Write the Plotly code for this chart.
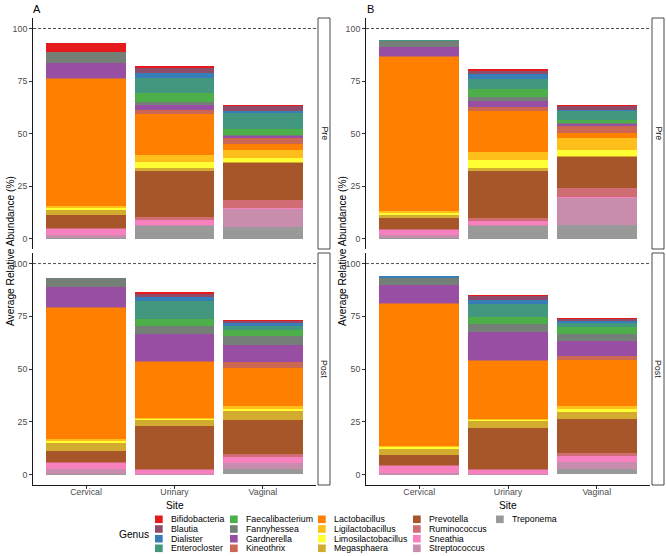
import plotly.graph_objects as go

W, H = 666, 556

sites = ["Cervical", "Urinary", "Vaginal"]
genera = ["Bifidobacteria", "Blautia", "Dialister", "Enterocloster", "Faecalibacterium",
          "Fannyhessea", "Gardnerella", "Kineothrix", "Lactobacillus", "Ligilactobacillus",
          "Limosilactobacillus", "Megasphaera", "Prevotella", "Ruminococcus", "Sneathia",
          "Streptococcus", "Treponema"]
colors = ["#E41A1C", "#8E4C6A", "#377EB8", "#42977F", "#4DAF4A", "#737F77", "#984EA3",
          "#CC6752", "#FF7F00", "#FFBF1A", "#FFFF33", "#D3AB2E", "#A65628", "#CF6C74",
          "#F781BF", "#C88DAC", "#999999"]

# values per site, in genus order (percent)
a_pre_cervical = [4.4, 0, 0, 0, 0, 5.4, 7.1, 0.3, 60.4, 1.0, 0.6, 2.8, 6.4, 0.2, 3.0, 1.4, 0.2]
a_pre_urinary = [0.4, 2.6, 2.4, 7.1, 4.3, 1.5, 2.4, 1.9, 19.7, 3.0, 3.2, 0.9, 22.4, 1.3, 2.2, 0.3, 6.3]
a_pre_vaginal = [0.2, 2.6, 0.5, 7.9, 2.7, 0.3, 1.3, 3.0, 2.7, 3.8, 2.0, 0.3, 17.8, 3.7, 0.3, 8.8, 5.4]
a_post_cervical = [0, 0, 0, 0, 0, 4.1, 9.8, 0.2, 62.0, 1.1, 1.1, 3.5, 5.4, 0.2, 3.1, 2.3, 0.3]
a_post_urinary = [0.3, 1.6, 1.9, 8.5, 3.2, 4.1, 12.9, 0.2, 26.7, 0.3, 0.2, 3.3, 20.5, 0.1, 2.0, 0.2, 0.1]
a_post_vaginal = [0.2, 1.0, 1.4, 1.9, 3.1, 4.1, 8.3, 2.8, 18.0, 1.3, 1.1, 4.2, 16.2, 1.5, 2.6, 2.7, 2.8]
b_pre_cervical = [0, 0, 0, 0.3, 0, 2.9, 4.2, 0.2, 73.7, 1.0, 0.9, 1.3, 5.4, 0.2, 2.8, 1.4, 0.2]
b_pre_urinary = [0.3, 2.0, 2.2, 4.7, 3.8, 1.9, 3.2, 1.7, 19.6, 3.9, 3.8, 1.4, 22.4, 0.8, 2.2, 0.3, 6.3]
b_pre_vaginal = [0.2, 2.0, 0.3, 4.4, 1.6, 0.3, 0.8, 3.6, 2.4, 5.8, 2.5, 0.3, 15.3, 4.1, 0.2, 13.0, 6.6]
b_post_cervical = [0, 0, 0.4, 0, 0, 3.8, 8.7, 0.2, 67.2, 0.6, 0.7, 3.0, 5.1, 0.2, 3.6, 0.3, 0.2]
b_post_urinary = [0.2, 2.1, 1.6, 6.3, 3.5, 3.7, 13.3, 0.2, 27.8, 0.3, 0.1, 3.6, 19.7, 0.1, 2.2, 0.1, 0.1]
b_post_vaginal = [0.2, 1.1, 0.9, 2.2, 2.9, 3.5, 7.1, 2.0, 21.7, 1.4, 1.4, 3.6, 15.8, 1.6, 2.7, 3.2, 2.8]

yticks = [0, 25, 50, 75, 100]
FONT = "Liberation Sans, Arial, sans-serif"

def fx(x):
    return x / W

def fy(y):
    return 1 - y / H

# panels: (axis suffix, data per site, strip label, x-px range, y-px range, show x labels)
panels = [
    ("", [a_pre_cervical, a_pre_urinary, a_pre_vaginal], "Pre", (33, 316), (18, 249), False),
    ("2", [a_post_cervical, a_post_urinary, a_post_vaginal], "Post", (33, 316), (253, 485), True),
    ("3", [b_pre_cervical, b_pre_urinary, b_pre_vaginal], "Pre", (366, 650), (18, 249), False),
    ("4", [b_post_cervical, b_post_urinary, b_post_vaginal], "Post", (366, 650), (253, 485), True),
]

fig = go.Figure()
shapes = []
annotations = []

for suffix, data, strip, (x0, x1), (y0, y1), showx in panels:
    xa, ya = "x" + suffix, "y" + suffix
    for gi in reversed(range(len(genera))):
        fig.add_trace(go.Bar(
            x=sites, y=[d[gi] for d in data], name=genera[gi],
            marker=dict(color=colors[gi], line=dict(width=0)),
            width=0.9, xaxis=xa, yaxis=ya, showlegend=False,
        ))
    xkey = "xaxis" + suffix
    ykey = "yaxis" + suffix
    fig.update_layout(**{
        xkey: dict(domain=[fx(x0), fx(x1)], anchor=ya, range=[-0.6, 2.6],
                   showline=showx, linecolor="#1a1a1a", linewidth=0.9,
                   ticks="outside" if showx else "", ticklen=3, tickwidth=0.8,
                   tickcolor="#333333", showticklabels=showx, showgrid=False,
                   zeroline=False, tickfont=dict(size=8.8, color="#4D4D4D", family=FONT),
                   ticklabelstandoff=-5, fixedrange=True),
        ykey: dict(domain=[fy(y1), fy(y0)], anchor=xa, range=[-5, 105],
                   tickvals=yticks, ticktext=[str(v) for v in yticks],
                   showline=True, linecolor="#1a1a1a", linewidth=0.9,
                   ticks="outside", ticklen=3, tickwidth=0.8, tickcolor="#333333",
                   showgrid=False, zeroline=False,
                   tickfont=dict(size=8.8, color="#4D4D4D", family=FONT),
                   fixedrange=True),
    })
    # reference line at 100
    shapes.append(dict(type="line", xref=xa + " domain", x0=0, x1=1, yref=ya, y0=100, y1=100,
                       line=dict(color="#222222", width=0.8, dash="3px,2px"), layer="above"))
    # facet strip
    sx0, sx1 = x1 + 2, x1 + 14
    shapes.append(dict(type="rect", xref="paper", yref="paper",
                       x0=fx(sx0), x1=fx(sx1), y0=fy(y1), y1=fy(y0),
                       line=dict(color="#333333", width=0.9), fillcolor="white"))
    annotations.append(dict(text=strip, xref="paper", yref="paper",
                            x=fx((sx0 + sx1) / 2), y=fy((y0 + y1) / 2), textangle=90,
                            showarrow=False, font=dict(size=8.8, color="#1A1A1A", family=FONT),
                            xanchor="center", yanchor="middle"))

# plot tags, axis titles
for tag, left, right, ytx in [("A", 33, 316, 10), ("B", 366, 650, 342)]:
    annotations.append(dict(text=tag, xref="paper", yref="paper", x=fx(left + 4), y=fy(9),
                            showarrow=False, font=dict(size=11, color="black", family=FONT),
                            xanchor="center", yanchor="middle"))
    annotations.append(dict(text="Average Relative Abundance (%)", xref="paper", yref="paper",
                            x=fx(ytx), y=fy(251), textangle=-90, showarrow=False,
                            font=dict(size=10.2, color="black", family=FONT),
                            xanchor="center", yanchor="middle"))
    annotations.append(dict(text="Site", xref="paper", yref="paper",
                            x=fx((left + right) / 2), y=fy(505), showarrow=False,
                            font=dict(size=10.2, color="black", family=FONT),
                            xanchor="center", yanchor="middle"))

# legend (ggplot-style, column-major, 4 rows)
annotations.append(dict(text="Genus", xref="paper", yref="paper", x=fx(117), y=fy(534),
                        showarrow=False, font=dict(size=10.2, color="black", family=FONT),
                        xanchor="left", yanchor="middle"))
col_key_x = [155, 230, 318, 413, 496]
row_y = [519.3, 529.0, 538.7, 548.3]
for gi, g in enumerate(genera):
    c, r = divmod(gi, 4)
    kx, ky = col_key_x[c], row_y[r]
    shapes.append(dict(type="rect", xref="paper", yref="paper",
                       x0=fx(kx), x1=fx(kx + 7.7), y0=fy(ky + 3.8), y1=fy(ky - 3.8),
                       line=dict(width=0), fillcolor=colors[gi]))
    annotations.append(dict(text=g, xref="paper", yref="paper", x=fx(kx + 13.5), y=fy(ky),
                            showarrow=False, font=dict(size=8.8, color="black", family=FONT),
                            xanchor="left", yanchor="middle"))

fig.update_layout(
    width=W, height=H, margin=dict(l=0, r=0, t=0, b=0),
    paper_bgcolor="white", plot_bgcolor="white",
    barmode="stack", bargap=0.1, showlegend=False,
    shapes=shapes, annotations=annotations,
    font=dict(family=FONT),
)

fig.write_html("out.html")
